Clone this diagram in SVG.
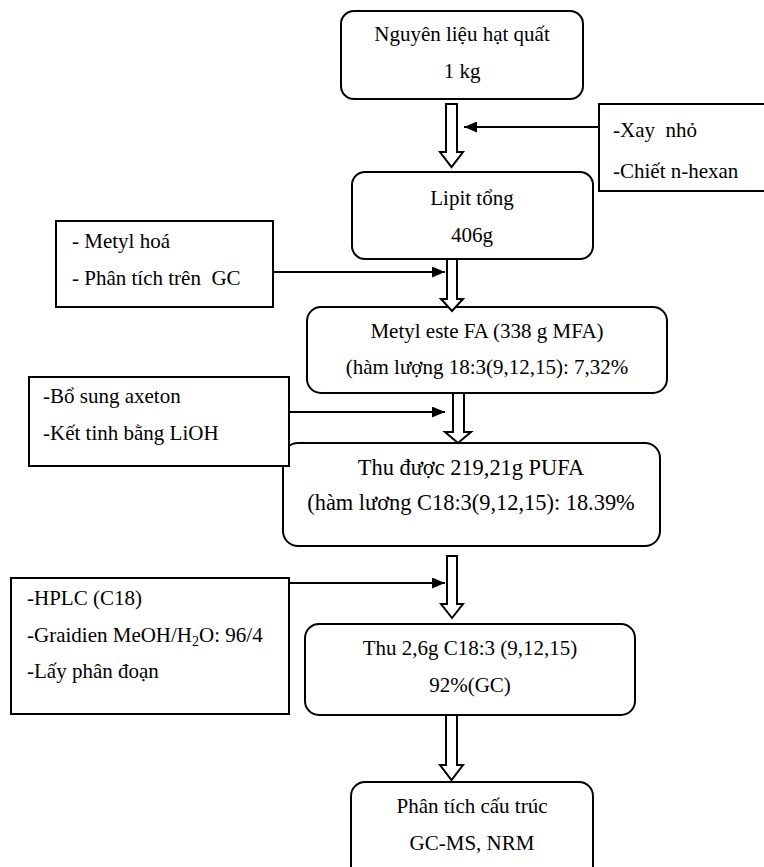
<svg xmlns="http://www.w3.org/2000/svg" width="764" height="867" viewBox="0 0 764 867">
<style>
  .box { fill: #fff; stroke: #000; stroke-width: 2; }
  .side { fill: #fff; stroke: #000; stroke-width: 2; }
  text { font-family: 'Liberation Serif', 'DejaVu Serif', serif; font-size: 21px; fill: #000; white-space: pre; }
  .c { text-anchor: middle; }
  .big { font-size: 22.4px; }
  .hollow { fill: #fff; stroke: #000; stroke-width: 2; stroke-linejoin: miter; }
  .line { fill: none; stroke: #000; stroke-width: 2; }
</style>
<defs>
  <marker id="ah" markerUnits="userSpaceOnUse" markerWidth="13" markerHeight="11" refX="13" refY="5.5" orient="auto">
    <path d="M0,0 L13,5.5 L0,11 z" fill="#000"/>
  </marker>
</defs>
<rect width="764" height="867" fill="#fff"/>

<g font-family="Liberation Serif, DejaVu Serif, serif" font-size="21">
<g id="n1">
  <rect class="box" x="341" y="11" width="242" height="88" rx="13"/>
  <text class="c" x="462" y="41">Nguyên liệu hạt quất</text>
  <text class="c" x="462" y="78">1 kg</text>
</g>
<g id="n2">
  <rect class="box" x="352" y="172" width="241" height="87" rx="13"/>
  <text class="c" x="472" y="205">Lipit tổng</text>
  <text class="c" x="472" y="242">406g</text>
</g>
<g id="n3">
  <rect class="box" x="307" y="307" width="360" height="86" rx="14"/>
  <text class="c" x="487" y="338">Metyl este FA (338 g MFA)</text>
  <text class="c" x="487" y="374">(hàm lượng 18:3(9,12,15): 7,32%</text>
</g>
<g id="n4">
  <rect class="box" x="283" y="443" width="377" height="103" rx="15"/>
  <text class="c big" x="471" y="475">Thu được 219,21g PUFA</text>
  <text class="c big" x="471" y="510">(hàm lương C18:3(9,12,15): 18.39%</text>
</g>
<g id="n5">
  <rect class="box" x="305" y="624" width="330" height="91" rx="14"/>
  <text class="c" x="470" y="655">Thu 2,6g C18:3 (9,12,15)</text>
  <text class="c" x="470" y="692">92%(GC)</text>
</g>
<g id="n6">
  <rect class="box" x="351" y="782" width="242" height="100" rx="14"/>
  <text class="c" x="472" y="813">Phân tích cấu trúc</text>
  <text class="c" x="472" y="850">GC-MS, NRM</text>
</g>

<g id="s1">
  <rect class="side" x="599" y="104" width="170" height="87"/>
  <text x="613" y="137">-Xay  nhỏ</text>
  <text x="613" y="178">-Chiết n-hexan</text>
</g>
<g id="s2">
  <rect class="side" x="56" y="221" width="217" height="86"/>
  <text x="72" y="248">- Metyl hoá</text>
  <text x="72" y="285">- Phân tích trên  GC</text>
</g>
<g id="s3">
  <rect class="side" x="29" y="377" width="260" height="89"/>
  <text x="43" y="403">-Bổ sung axeton</text>
  <text x="43" y="440">-Kết tinh bằng LiOH</text>
</g>
<g id="s4">
  <rect class="side" x="11" y="578" width="278" height="136"/>
  <text x="27" y="605">-HPLC (C18)</text>
  <text x="27" y="642">-Graidien MeOH/H<tspan font-size="14" dy="4">2</tspan><tspan dy="-4">O: 96/4</tspan></text>
  <text x="27" y="678">-Lấy phân đoạn</text>
</g>
</g>

<g id="connectors">
  <polygon class="hollow" points="446,104 457,104 457,152 463,152 451.5,167 440,152 446,152"/>
  <polygon class="hollow" points="447,259 457,259 457,299 463,299 452,311 441,299 447,299"/>
  <polygon class="hollow" points="453,393 464,393 464,432 471,432 458,443 445,432 453,432"/>
  <polygon class="hollow" points="447,556 457,556 457,604 463,604 452,618 441,604 447,604"/>
  <polygon class="hollow" points="446,715 457,715 457,765 463,765 451.5,780 440,765 446,765"/>
  <line class="line" x1="599" y1="127" x2="464" y2="127" marker-end="url(#ah)"/>
  <line class="line" x1="273" y1="272" x2="445" y2="272" marker-end="url(#ah)"/>
  <line class="line" x1="289" y1="412" x2="445" y2="412" marker-end="url(#ah)"/>
  <line class="line" x1="289" y1="583" x2="445" y2="583" marker-end="url(#ah)"/>
</g>
</svg>
